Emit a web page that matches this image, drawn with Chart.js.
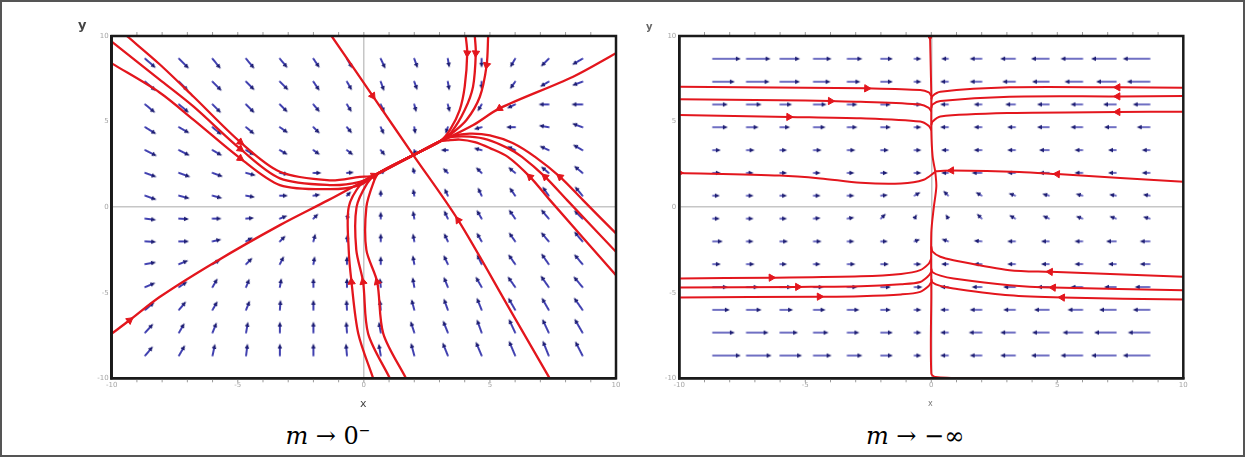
<!DOCTYPE html>
<html>
<head>
<meta charset="utf-8">
<script src="https://cdn.jsdelivr.net/npm/chart.js@4.4.1/dist/chart.umd.min.js"></script>
<style>
body{margin:0;background:#fff;}
#page{position:relative;width:1245px;height:457px;overflow:hidden;background:#fff;}
#frame{position:absolute;left:0;top:0;width:1241px;height:453px;border:2px solid #555;}
canvas{position:absolute;top:0;}
.lbl{position:absolute;font-family:"DejaVu Sans",sans-serif;line-height:1;white-space:nowrap;}
.cap{position:absolute;top:424px;font-family:"DejaVu Serif",serif;font-size:24px;line-height:24px;color:#000;white-space:nowrap;transform:translateX(-50%);}
.cap sup{font-size:14px;vertical-align:9px;line-height:0;}
</style>
</head>
<body>
<div id="page">
  <div id="frame"></div>
  <canvas id="left" width="640" height="400" style="left:0px"></canvas>
  <canvas id="right" width="605" height="400" style="left:640px"></canvas>
  <div class="lbl" style="left:78px;top:18px;font-size:13px;font-weight:bold;color:#444">y</div>
  <div class="lbl" style="left:646px;top:22px;font-size:10px;font-weight:bold;color:#666">y</div>
  <div class="lbl" style="left:360px;top:398px;font-size:11px;color:#444">x</div>
  <div class="lbl" style="left:928px;top:400px;font-size:8px;color:#777">x</div>
  <div class="cap" style="left:328px"><i>m</i> → 0<sup>−</sup></div>
  <div class="cap" style="left:915px"><i>m</i> → −∞</div>
</div>
<script>
// grid of the direction field (same for both panels)
var gridX = [-8.67,-7.33,-6,-4.67,-3.33,-2,-0.67,0.67,2,3.33,4.67,6,7.33,8.67];
var gridY = [8.67,7.33,6,4.67,3.33,2,0.67,-0.67,-2,-3.33,-4.67,-6,-7.33,-8.67];
var tickVals = [-10,-5,0,5,10];

// m -> 0- : arrow directions (deg, counter-clockwise on screen) and magnitudes, rows top to bottom
var leftAngles = [
 [-41,-45,-51,-50,-50,-56,-60,-65,-70,-80,-90,-120,-135,-150],
 [-41,-45,-45,-45,-45,-56,-60,-70,-70,-80,-90,-125,-150,-160],
 [-40,-40,-45,-45,-45,-50,-58,-65,-75,-75,-120,-155,180,180],
 [-32,-30,-40,-40,-35,-45,-50,-65,-80,-110,-165,180,170,160],
 [-27,-27,-30,-30,-30,-35,-38,-50,-70,180,165,155,155,150],
 [-20,-20,-20,-15,-10,0,5,30,105,135,135,140,140,140],
 [-20,-15,-15,-10,0,10,45,90,100,115,115,125,125,130],
 [-7,-3,0,5,22,45,72,90,100,115,120,125,130,135],
 [-3,0,13,30,45,75,85,90,100,115,120,125,130,130],
 [10,22,30,45,63,80,90,90,100,115,115,125,125,130],
 [23,34,60,68,80,90,90,95,100,112,120,125,125,130],
 [40,50,60,68,86,90,93,95,105,110,112,120,120,125],
 [48,60,68,80,90,90,94,100,108,112,110,115,115,120],
 [50,60,78,83,90,90,95,100,105,112,113,113,112,117]
];
var leftMag = [
 [14,14,13,13,12,11,11,11,10,9,9,10,11,12],
 [14,13,13,12,12,11,10,10,9,9,8,9,10,11],
 [13,13,12,12,11,10,9,9,8,8,8,9,10,11],
 [13,12,12,11,10,9,8,8,7,7,8,9,10,11],
 [13,12,11,10,9,8,8,7,6,7,8,9,10,11],
 [12,12,11,10,9,8,7,6,6,7,8,9,10,11],
 [12,11,10,9,8,7,6,6,7,8,9,10,11,12],
 [11,10,9,8,8,7,6,7,8,9,10,11,12,12],
 [11,10,9,8,8,8,7,8,8,9,10,11,12,13],
 [11,10,9,9,9,8,8,8,9,10,11,12,13,13],
 [11,10,10,9,9,9,9,9,10,11,12,13,14,14],
 [12,11,10,10,10,10,10,10,11,12,13,14,14,15],
 [12,11,11,11,11,11,11,11,12,13,14,15,15,16],
 [12,12,12,12,12,12,12,12,13,14,15,16,16,16]
];

// m -> -inf
var rightAngles = [
 [0,0,0,0,0,0,0,180,180,180,180,180,180,180],
 [0,0,0,0,0,0,0,180,180,180,180,180,180,180],
 [0,0,0,0,0,0,0,180,180,180,180,180,180,180],
 [0,0,0,0,0,0,0,180,180,180,180,180,180,180],
 [0,0,0,0,0,0,0,180,180,180,180,180,180,180],
 [0,0,0,0,0,0,0,180,180,180,180,180,180,180],
 [0,0,0,0,0,5,30,135,150,160,165,165,170,170],
 [0,0,0,5,10,45,60,120,135,150,155,160,160,165],
 [0,0,0,0,0,0,20,160,175,180,180,180,180,180],
 [0,0,0,0,0,0,0,180,180,180,180,180,180,180],
 [0,0,0,0,0,0,0,180,180,180,180,180,180,180],
 [0,0,0,0,0,0,0,180,180,180,180,180,180,180],
 [0,0,0,0,0,0,0,180,180,180,180,180,180,180],
 [0,0,0,0,0,0,0,180,180,180,180,180,180,180]
];
var rightMag = [
 [28,24,20,18,15,12,7,7,12,15,18,22,25,27],
 [22,23,20,17,13,12,7,8,12,13,17,18,20,23],
 [15,15,12,13,10,10,7,8,8,10,12,12,13,17],
 [15,12,10,12,10,10,7,8,8,8,12,12,12,13],
 [8,8,7,8,8,8,7,7,8,8,10,8,8,8],
 [8,7,7,7,7,7,7,7,10,8,10,8,8,8],
 [7,7,7,7,7,7,7,7,7,7,7,7,7,7],
 [7,7,7,7,7,7,5,5,7,7,7,7,7,7],
 [10,7,8,8,7,7,6,7,8,8,8,8,10,10],
 [8,8,7,7,8,8,7,7,8,8,8,8,8,10],
 [15,12,12,10,10,10,8,8,10,12,12,12,12,15],
 [17,15,13,12,12,10,7,8,12,12,15,15,17,17],
 [22,22,18,15,12,12,7,8,13,15,17,20,22,22],
 [28,25,22,18,15,12,7,8,12,15,18,22,25,27]
];

// trajectories, points in flow order; arrows = indexes of points carrying a red head
var slowLeft  = [[-10,-7.39],[-9.29,-6.61],[-8.1,-5.25],[-5.89,-3.2],[-3.33,-1.05],[-1.41,0.41],[0.4,1.85],[1.96,3.04]];
var slowRight = [[10,8.99],[8.3,7.62],[5.38,5.77],[4.34,4.8],[3.02,3.82],[1.96,3.04]];
var fastTop   = [[-1.28,10],[0.35,6.5],[1.96,3.04]];
var fastBot   = [[7.37,-10],[5.8,-6.0],[3.74,-0.76],[1.96,3.04]];
var topA = [[4.04,10],[4.1,9.0],[4.0,7.04],[3.8,5.67],[3.41,4.5],[3.02,3.85],[1.96,3.04]];
var topB = [[4.4,10],[4.44,9.0],[4.33,7.04],[4.0,5.67],[3.48,4.4],[3.02,3.85],[1.96,3.04]];
var topC = [[4.93,10],[4.87,8.3],[4.6,6.45],[4.07,5.09],[3.41,4.21],[3.02,3.85],[1.96,3.04]];
var rgt1 = [[10,-1.54],[8.69,0.41],[7.78,1.77],[6.79,2.94],[5.9,3.75],[5.0,4.2],[4.2,4.3],[3.5,4.15],[3.02,3.85],[1.96,3.04]];
var rgt2 = [[10,-2.61],[8.06,0.41],[7.19,1.77],[6.27,2.94],[5.71,3.45],[4.9,3.95],[4.2,4.12],[3.5,4.1],[3.02,3.85],[1.96,3.04]];
var rgt3 = [[10,-3.98],[7.38,0.41],[6.59,1.77],[5.71,2.94],[5.0,3.45],[4.4,3.8],[3.8,3.95],[3.3,3.9],[3.02,3.85],[1.96,3.04]];
var lft1 = [[-9.4,10],[-8.1,8.35],[-6.75,6.45],[-4.9,3.8],[-3.33,2.07],[-1.35,1.57],[-0.16,1.77],[0.4,1.85],[1.96,3.04]];
var lft2 = [[-10,9.67],[-8.1,7.45],[-6.75,5.87],[-4.9,3.4],[-3.33,1.68],[-1.35,1.29],[-0.16,1.48],[0.5,1.93],[1.96,3.04]];
var lft3 = [[-10,8.4],[-8.1,6.7],[-6.75,5.1],[-4.9,2.85],[-3.33,1.29],[-1.35,1.05],[-0.16,1.29],[0.6,2.0],[1.96,3.04]];
var bot1 = [[0.37,-10],[-0.22,-7.39],[-0.49,-4.37],[-0.6,-2.5],[-0.6,0],[-0.1,1.39],[0.4,1.85],[1.96,3.04]];
var bot2 = [[1.03,-10],[0.17,-7.39],[-0.03,-4.37],[-0.3,-2.5],[-0.29,0],[0.13,1.39],[0.5,1.93],[1.96,3.04]];
var bot3 = [[1.67,-10],[0.77,-7.39],[0.53,-4.37],[0.1,-2.5],[0.1,0],[0.37,1.39],[0.6,2.0],[1.96,3.04]];

var vertTop = [[-0.05,10],[-0.02,8],[0,6.5],[0,4.5],[0.05,3],[0.16,2.06]];
var vertBot = [[4,-10],[1.5,-10],[0.16,-9.92],[0,-9.72],[0,-5],[0,-1.5],[0.1,0],[0.2,1.2],[0.16,2.06]];
var ul1 = [[-10,7.03],[-5,6.98],[-2.56,6.94],[-0.44,6.84],[-0.1,6.7],[0,6.5]];
var ul2 = [[-10,6.3],[-6,6.25],[-4.0,6.2],[-2.8,6.16],[-0.44,6.0],[-0.1,5.8],[0,5.6]];
var ul3 = [[-10,5.38],[-5.65,5.27],[-2.8,5.19],[-0.44,5.0],[-0.1,4.75],[0,4.5]];
var ur1 = [[10,6.98],[7.4,7.0],[3.1,7.0],[0.36,6.74],[0.05,6.5],[0,6.3]];
var ur2 = [[10,6.49],[7.4,6.47],[3.1,6.45],[0.36,6.2],[0.05,6.0],[0,5.8]];
var ur3 = [[10,5.57],[7.4,5.56],[3.1,5.5],[0.36,5.3],[0.05,5.0],[0,4.8]];
var midL = [[-10,2.0],[-6,1.85],[-4.4,1.68],[-2.8,1.42],[-1.2,1.38],[-0.3,1.6],[0.16,2.06]];
var midR = [[10,1.48],[5.0,1.93],[3.5,2.06],[0.8,2.14],[0.16,2.1]];
var ll1 = [[-10,-4.17],[-6.35,-4.12],[-2.8,-4.04],[-1.2,-3.9],[-0.44,-3.68],[-0.1,-3.3],[0,-3.0]];
var ll2 = [[-10,-4.7],[-5.3,-4.66],[-2.8,-4.62],[-1.2,-4.5],[-0.44,-4.37],[-0.1,-4.0],[0,-3.78]];
var ll3 = [[-10,-5.28],[-4.44,-5.23],[-2.8,-5.2],[-1.2,-5.1],[-0.44,-4.95],[-0.1,-4.6],[0,-4.37]];
var lr1 = [[10,-4.07],[4.72,-3.78],[3.1,-3.68],[0.88,-3.1],[0.36,-2.9],[0.05,-2.6],[0,-2.3]];
var lr2 = [[10,-4.85],[4.84,-4.7],[3.1,-4.56],[0.88,-4.17],[0.36,-4.0],[0.05,-3.8],[0,-3.6]];
var lr3 = [[10,-5.4],[5.2,-5.28],[3.1,-5.15],[0.88,-4.75],[0.36,-4.6],[0.05,-4.4],[0,-4.2]];

var leftTraj = [
  {pts: slowLeft, arrows: [1,6]}, {pts: slowRight, arrows: [2]},
  {pts: fastTop, arrows: [1]}, {pts: fastBot, arrows: [2]},
  {pts: topA, arrows: [1]}, {pts: topB, arrows: [1]}, {pts: topC, arrows: [1]},
  {pts: rgt1, arrows: [2]}, {pts: rgt2, arrows: [2]}, {pts: rgt3, arrows: [2]},
  {pts: lft1, arrows: [3]}, {pts: lft2, arrows: [3]}, {pts: lft3, arrows: [3]},
  {pts: bot1, arrows: [2]}, {pts: bot2, arrows: [2]}, {pts: bot3, arrows: [2]}
];
var rightTraj = [
  {pts: vertTop, arrows: [0]}, {pts: vertBot, arrows: []},
  {pts: ul1, arrows: [2]}, {pts: ul2, arrows: [2]}, {pts: ul3, arrows: [1]},
  {pts: ur1, arrows: [1]}, {pts: ur2, arrows: [1]}, {pts: ur3, arrows: [1]},
  {pts: midL, arrows: [0]}, {pts: midR, arrows: [1,3]},
  {pts: ll1, arrows: [1]}, {pts: ll2, arrows: [1]}, {pts: ll3, arrows: [1]},
  {pts: lr1, arrows: [1]}, {pts: lr2, arrows: [1]}, {pts: lr3, arrows: [1]}
];

var RED = '#e3161d';
var SHAFT = '#4141b0';
var HEAD = '#1c1c72';

Chart.defaults.font.family = '"DejaVu Sans", sans-serif';

var arrowCache = {};
function arrowCanvas(len, w, head) {
  var key = len + '_' + w + '_' + head;
  if (arrowCache[key]) return arrowCache[key];
  var half = Math.ceil(len) + 4;
  var c = document.createElement('canvas');
  c.width = half * 2;
  c.height = 12;
  var g = c.getContext('2d');
  g.strokeStyle = SHAFT;
  g.lineWidth = w;
  g.lineCap = 'round';
  g.beginPath();
  g.moveTo(half, 6);
  g.lineTo(half + len - head * 0.6, 6);
  g.stroke();
  g.fillStyle = HEAD;
  g.beginPath();
  g.moveTo(half + len, 6);
  g.lineTo(half + len - head, 6 - head * 0.45);
  g.lineTo(half + len - head, 6 + head * 0.45);
  g.closePath();
  g.fill();
  arrowCache[key] = c;
  return c;
}

function fieldDataset(angles, mags, w, head) {
  var pts = [];
  for (var r = 0; r < gridY.length; r++) {
    for (var c = 0; c < gridX.length; c++) {
      pts.push({x: gridX[c], y: gridY[r], a: angles[r][c], m: mags[r][c]});
    }
  }
  return {
    data: pts,
    showLine: false,
    order: 3,
    pointRadius: 1,
    pointStyle: function(ctx) { return arrowCanvas(ctx.raw.m, w, head); },
    pointRotation: function(ctx) { return -ctx.raw.a; }
  };
}

function trajDatasets(list, width) {
  var sets = [];
  var heads = [];
  list.forEach(function(t) {
    sets.push({
      data: t.pts.map(function(p) { return {x: p[0], y: p[1]}; }),
      showLine: true, fill: false, tension: 0.3,
      borderColor: RED, borderWidth: width, pointRadius: 0, order: 2
    });
    t.arrows.forEach(function(i) {
      var p = t.pts[i], q = t.pts[i + 1];
      heads.push({x: p[0], y: p[1], nx: q[0], ny: q[1]});
    });
  });
  sets.push({
    data: heads, showLine: false, order: 1,
    pointStyle: 'triangle', pointRadius: 4.2,
    backgroundColor: RED, borderColor: RED, borderWidth: 1,
    pointRotation: function(ctx) {
      var sx = ctx.chart.scales.x, sy = ctx.chart.scales.y, d = ctx.raw;
      var dx = sx.getPixelForValue(d.nx) - sx.getPixelForValue(d.x);
      var dy = sy.getPixelForValue(d.ny) - sy.getPixelForValue(d.y);
      return Math.atan2(dy, dx) * 180 / Math.PI + 90;
    }
  });
  return sets;
}

var framePlugin = {
  id: 'frame',
  afterDatasetsDraw: function(chart) {
    var a = chart.chartArea, g = chart.ctx;
    var sx = chart.scales.x;
    g.save();
    g.strokeStyle = '#9a9a9a';
    g.lineWidth = 1;
    for (var v = -9; v <= 9; v++) {
      var px = sx.getPixelForValue(v);
      g.beginPath();
      g.moveTo(px, a.top - 1); g.lineTo(px, a.top - 4);
      g.moveTo(px, a.bottom + 1); g.lineTo(px, a.bottom + 4);
      g.stroke();
    }
    g.strokeStyle = '#1a1a1a';
    g.lineWidth = 2.5;
    g.strokeRect(a.left, a.top, a.right - a.left, a.bottom - a.top);
    g.restore();
  }
};

function axis(fit) {
  return {
    type: 'linear', min: -10, max: 10,
    afterFit: fit,
    afterBuildTicks: function(s) { s.ticks = tickVals.map(function(v) { return {value: v}; }); },
    ticks: {font: {size: 7}, color: '#a5a5a5', padding: 3, maxRotation: 0},
    grid: {
      drawTicks: false, lineWidth: 1.5,
      color: function(c) { return c.tick && c.tick.value === 0 ? '#c6c6c6' : 'rgba(0,0,0,0)'; }
    },
    border: {display: true, color: '#1a1a1a', width: 2.5}
  };
}

function makeChart(id, field, traj, pad) {
  new Chart(document.getElementById(id), {
    type: 'scatter',
    data: {datasets: [field].concat(traj)},
    options: {
      responsive: false, animation: false, events: [],
      layout: {padding: pad},
      plugins: {legend: {display: false}, tooltip: {enabled: false}},
      scales: {
        x: axis(function(s) { s.height = 14; }),
        y: axis(function(s) { s.width = 22; })
      }
    },
    plugins: [framePlugin]
  });
}

makeChart('left', fieldDataset(leftAngles, leftMag, 1.8, 5), trajDatasets(leftTraj, 2.3),
  {left: 89.7, top: 36, right: 24, bottom: 7.7});
makeChart('right', fieldDataset(rightAngles, rightMag, 1.6, 5), trajDatasets(rightTraj, 2),
  {left: 17.3, top: 36, right: 61.7, bottom: 7.7});
</script>
</body>
</html>
